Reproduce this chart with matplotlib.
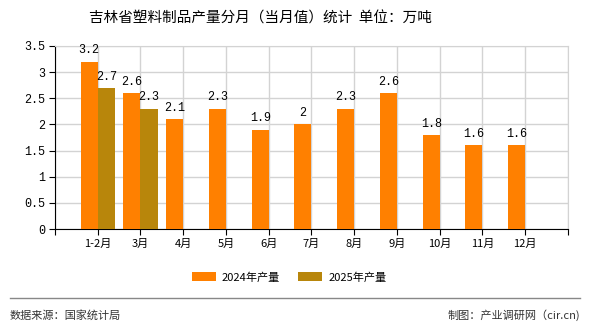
import matplotlib
matplotlib.use("Agg")
import matplotlib.pyplot as plt
import numpy as np
from matplotlib.lines import Line2D

plt.rcParams['font.family'] = ['Noto Sans CJK SC', 'DejaVu Sans']

months = ['1-2月', '3月', '4月', '5月', '6月', '7月', '8月', '9月', '10月', '11月', '12月']
vals_2024 = [3.2, 2.6, 2.1, 2.3, 1.9, 2.0, 2.3, 2.6, 1.8, 1.6, 1.6]
vals_2025 = [2.7, 2.3]
yticks = [0, 0.5, 1, 1.5, 2, 2.5, 3, 3.5]

c2024 = '#FF8000'
c2025 = '#B8860B'
num_font = ['Liberation Mono', 'DejaVu Sans']

fig = plt.figure(figsize=(5.9, 3.3), dpi=100)
ax = fig.add_axes([0.0932, 0.306, 0.8695, 0.555])

x = np.arange(len(months))
w = 0.4
b1 = ax.bar(x - w / 2, vals_2024, w, color=c2024, label='2024年产量', zorder=3)
x2 = np.arange(len(vals_2025))
b2 = ax.bar(x2 + w / 2, vals_2025, w, color=c2025, label='2025年产量', zorder=3)

for bars, vals in ((b1, vals_2024), (b2, vals_2025)):
    for r, v in zip(bars, vals):
        ax.text(r.get_x() + r.get_width() / 2, v + 0.1, f'{v:g}', ha='center', va='bottom',
                fontsize=8.5, family=num_font, zorder=4)

ax.set_xlim(-1, len(months))
ax.set_ylim(0, 3.5)
ax.set_yticks(yticks)
ax.set_yticklabels([f'{t:g}' for t in yticks], family=num_font, fontsize=8.5)
ax.set_xticks([-1] + list(x) + [len(months)])
ax.set_xticklabels([''] + months + [''], fontsize=8)

ax.grid(True, color='#d3d3d3', linewidth=1, zorder=0)
ax.set_axisbelow(True)
for s in ('top', 'right'):
    ax.spines[s].set_color('#d3d3d3')
ax.spines['left'].set_color('black')
ax.spines['bottom'].set_color('black')
ax.tick_params(axis='both', length=4, color='black', pad=3)

fig.text(0.442, 0.945, '吉林省塑料制品产量分月（当月值）统计  单位：万吨', ha='center', va='center',
         fontsize=10.5)

fig.legend(handles=[b1, b2], loc='center', bbox_to_anchor=(0.49, 0.16), ncol=2, frameon=False,
           fontsize=8, handlelength=2.2, handleheight=0.8, columnspacing=1.6, handletextpad=0.5)

fig.add_artist(Line2D([0.017, 0.983], [0.097, 0.097], color='#888888', linewidth=1))
fig.text(0.017, 0.045, '数据来源：国家统计局', ha='left', va='center', fontsize=8, color='#333333')
fig.text(0.983, 0.045, '制图：产业调研网（cir.cn)', ha='right', va='center', fontsize=8, color='#333333')

fig.savefig('out.png', dpi=100)
